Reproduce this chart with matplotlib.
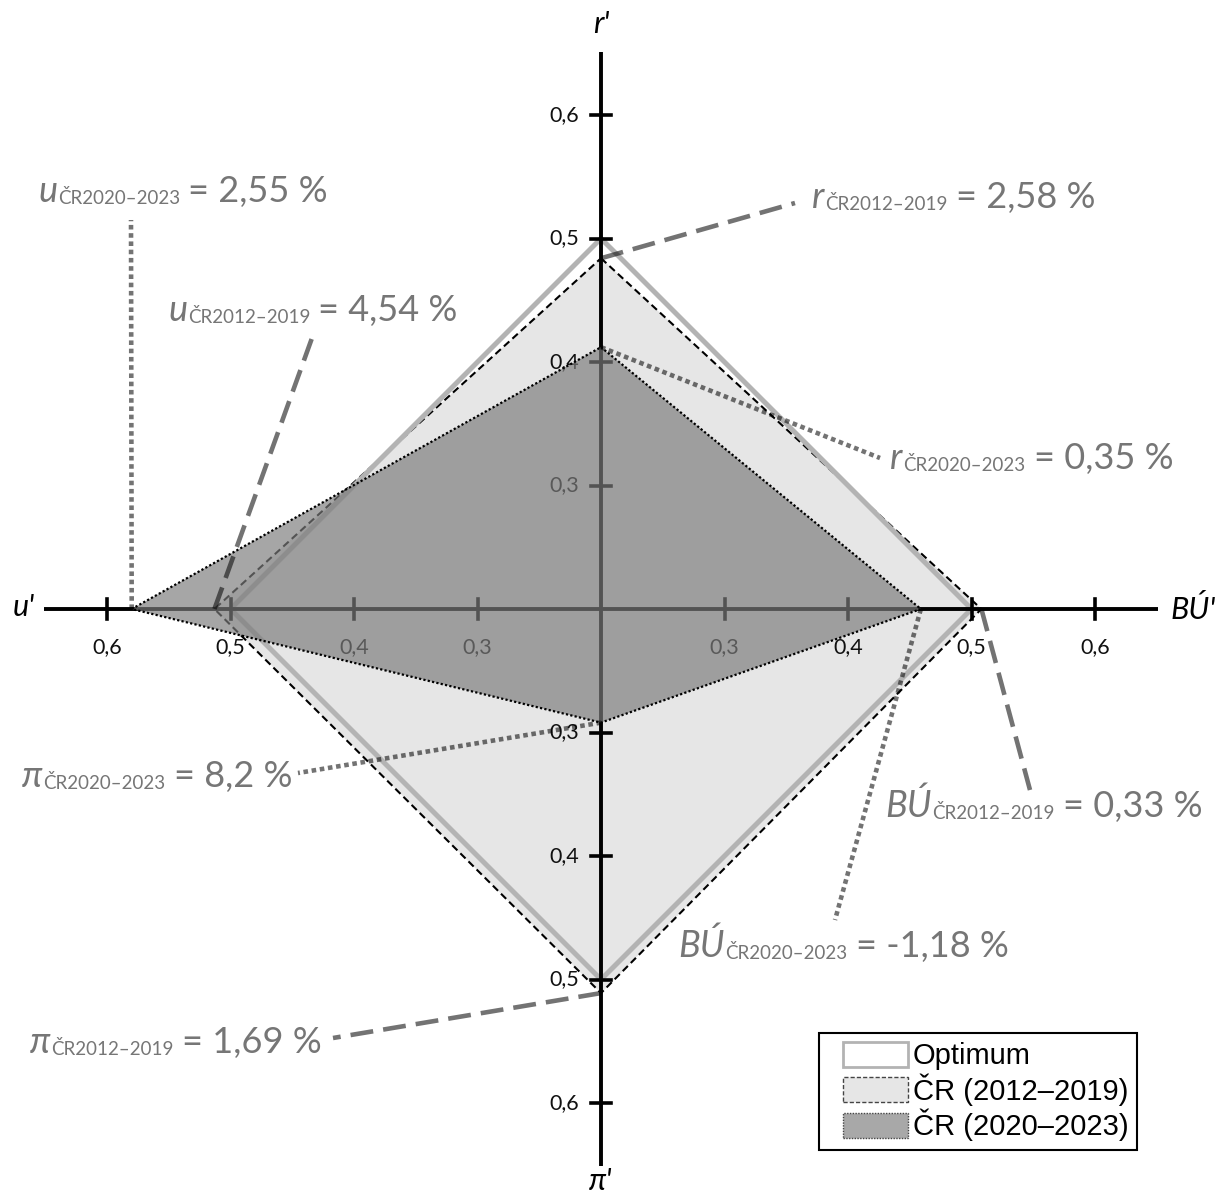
import matplotlib
matplotlib.use("Agg")
import matplotlib.pyplot as plt
from matplotlib.patches import Polygon, Patch
from matplotlib.legend_handler import HandlerPatch
from matplotlib.transforms import offset_copy

# axes of the quadrangle, clockwise from the top
axis_names = ["r'", "BÚ'", "π'", "u'"]
axis_dirs = [(0, 1), (1, 0), (0, -1), (-1, 0)]

# normalised values on each axis (r', BÚ', π', u')
optimum = [0.5, 0.5, 0.5, 0.5]
cr_2012_2019 = [0.484, 0.508, 0.511, 0.513]
cr_2020_2023 = [0.412, 0.459, 0.292, 0.580]

# actual indicator values shown in the callouts
vars_ = ["r", "BÚ", "π", "u"]
values_2012_2019 = ["2,58 %", "0,33 %", "1,69 %", "4,54 %"]
values_2020_2023 = ["0,35 %", "-1,18 %", "8,2 %", "2,55 %"]

tick_values = [0.3, 0.4, 0.5, 0.6]
tick_labels = ["0,3", "0,4", "0,5", "0,6"]
ORIGIN = 0.2          # value sitting at the centre of the cross

SCALE = 1235.0        # px per unit
CX, CY = 601, 609     # centre of the cross in px
W, H = 1229, 1196

TEXT_GRAY = "#767676"
LEADER = (0, 0, 0, 0.55)
FONT = ["Lato", "DejaVu Sans"]


def px(x, y):
    return ((x - CX) / SCALE, (CY - y) / SCALE)


def vertices(vals):
    return [(dx * (v - ORIGIN), dy * (v - ORIGIN)) for (dx, dy), v in zip(axis_dirs, vals)]


fig = plt.figure(figsize=(W / 100, H / 100), dpi=100)
ax = fig.add_axes([0, 0, 1, 1])
ax.set_xlim(-CX / SCALE, (W - CX) / SCALE)
ax.set_ylim(-(H - CY) / SCALE, CY / SCALE)
ax.axis("off")

v12 = vertices(cr_2012_2019)
v20 = vertices(cr_2020_2023)
vop = vertices(optimum)

# 2012-2019 polygon (underneath the axes)
ax.add_patch(Polygon(v12, closed=True, facecolor="#e6e6e6", edgecolor="none", zorder=1))
ax.add_patch(Polygon(v12, closed=True, fill=False, edgecolor="black", lw=1.5,
                     linestyle=(0, (3.5, 2)), zorder=1.2))
# optimum
ax.add_patch(Polygon(vop, closed=True, fill=False, edgecolor="#b3b3b3", lw=3.6,
                     joinstyle="miter", zorder=1.5))

# axis cross
L = 0.451
ax.plot([0, 0], [-L, L], color="black", lw=2.8, zorder=2, solid_capstyle="butt")
ax.plot([-L, L], [0, 0], color="black", lw=2.8, zorder=2, solid_capstyle="butt")
tk = 10 / SCALE
for (dx, dy) in axis_dirs:
    for v, lab in zip(tick_values, tick_labels):
        d = v - ORIGIN
        if dx == 0:
            ax.plot([-tk, tk], [dy * d, dy * d], color="black", lw=2.6, zorder=2)
            ax.text(-22 / SCALE, dy * d, lab, ha="right", va="center", fontsize=15.5,
                    family=FONT, color="#111111", zorder=2)
        else:
            ax.plot([dx * d, dx * d], [-tk, tk], color="black", lw=2.6, zorder=2)
            ax.text(dx * d, -38 / SCALE, lab, ha="center", va="center", fontsize=15.5,
                    family=FONT, color="#111111", zorder=2)

# axis names
name_pos = [px(601, 24), px(1193, 609), px(601, 1181), px(24, 607)]
for name, (x, y) in zip(axis_names, name_pos):
    ax.text(x, y, name, ha="center", va="center", fontsize=22, fontstyle="italic",
            family=FONT, color="black")

# 2020-2023 polygon, semi-transparent over the axes
ax.add_patch(Polygon(v20, closed=True, facecolor="#7c7c7c", alpha=0.68, edgecolor="none", zorder=3))
ax.add_patch(Polygon(v20, closed=True, fill=False, edgecolor="black", lw=1.6,
                     linestyle=(0, (1, 1)), zorder=3.5))

renderer = fig.canvas.get_renderer()


def callout(x0, y0, var, period, value):
    x, y = px(x0, y0)
    t = ax.text(x, y, var, fontsize=26, fontstyle="italic", family=FONT,
                color=TEXT_GRAY, va="baseline", ha="left", zorder=5)
    w1 = t.get_window_extent(renderer).width
    tr = offset_copy(ax.transData, fig=fig, x=w1 + 1, y=-2, units="dots")
    s = ax.text(x, y, "ČR" + period, fontsize=13.5, family=FONT, color=TEXT_GRAY,
                va="baseline", ha="left", transform=tr, zorder=5)
    w2 = s.get_window_extent(renderer).width
    tr2 = offset_copy(ax.transData, fig=fig, x=w1 + w2 + 9, y=0, units="dots")
    ax.text(x, y, "= " + value, fontsize=26, family=FONT, color=TEXT_GRAY,
            va="baseline", ha="left", transform=tr2, zorder=5)


DASHED = (0, (5, 2.2))
DOTTED = (0, (1, 0.8))

# callout text anchors (left, baseline) and leader ends, in px
pos_2012 = [(812, 208), (885, 817), (30, 1053), (168, 321)]
end_2012 = [(795, 203), (1030, 790), (333, 1038), (312, 338)]
pos_2020 = [(890, 469), (678, 957), (22, 787), (38, 202)]
end_2020 = [(880, 458), (835, 920), (298, 773), (131, 220)]

for var, val, p, e, v in zip(vars_, values_2012_2019, pos_2012, end_2012, v12):
    callout(p[0], p[1], var, "2012–2019", val)
    ex, ey = px(*e)
    ax.plot([v[0], ex], [v[1], ey], color=LEADER, lw=3.3, linestyle=DASHED, zorder=4)

for var, val, p, e, v in zip(vars_, values_2020_2023, pos_2020, end_2020, v20):
    callout(p[0], p[1], var, "2020–2023", val)
    ex, ey = px(*e)
    ax.plot([v[0], ex], [v[1], ey], color=LEADER, lw=3.3, linestyle=DOTTED, zorder=4)

handles = [
    Patch(facecolor="white", edgecolor="#b3b3b3", lw=2),
    Patch(facecolor="#e6e6e6", edgecolor="#444444", lw=1, linestyle=(0, (3, 1.5))),
    Patch(facecolor="#a8a8a8", edgecolor="#444444", lw=1, linestyle=(0, (1, 1))),
]
leg = ax.legend(handles, ["Optimum", "ČR (2012–2019)", "ČR (2020–2023)"],
                loc="lower right", bbox_to_anchor=(1137 / W, 1 - 1150 / H),
                bbox_transform=fig.transFigure, borderaxespad=0,
                prop={"family": ["Liberation Sans", "DejaVu Sans"], "size": 21},
                handler_map={Patch: HandlerPatch(xpad=0.5)},
                handlelength=2.75, handleheight=0.95, labelspacing=0.1,
                handletextpad=0.15, borderpad=0.3, fancybox=False, framealpha=1)
leg.get_frame().set_edgecolor("black")
leg.get_frame().set_linewidth(1.5)
leg.set_zorder(6)

fig.savefig("out.png", dpi=100)
